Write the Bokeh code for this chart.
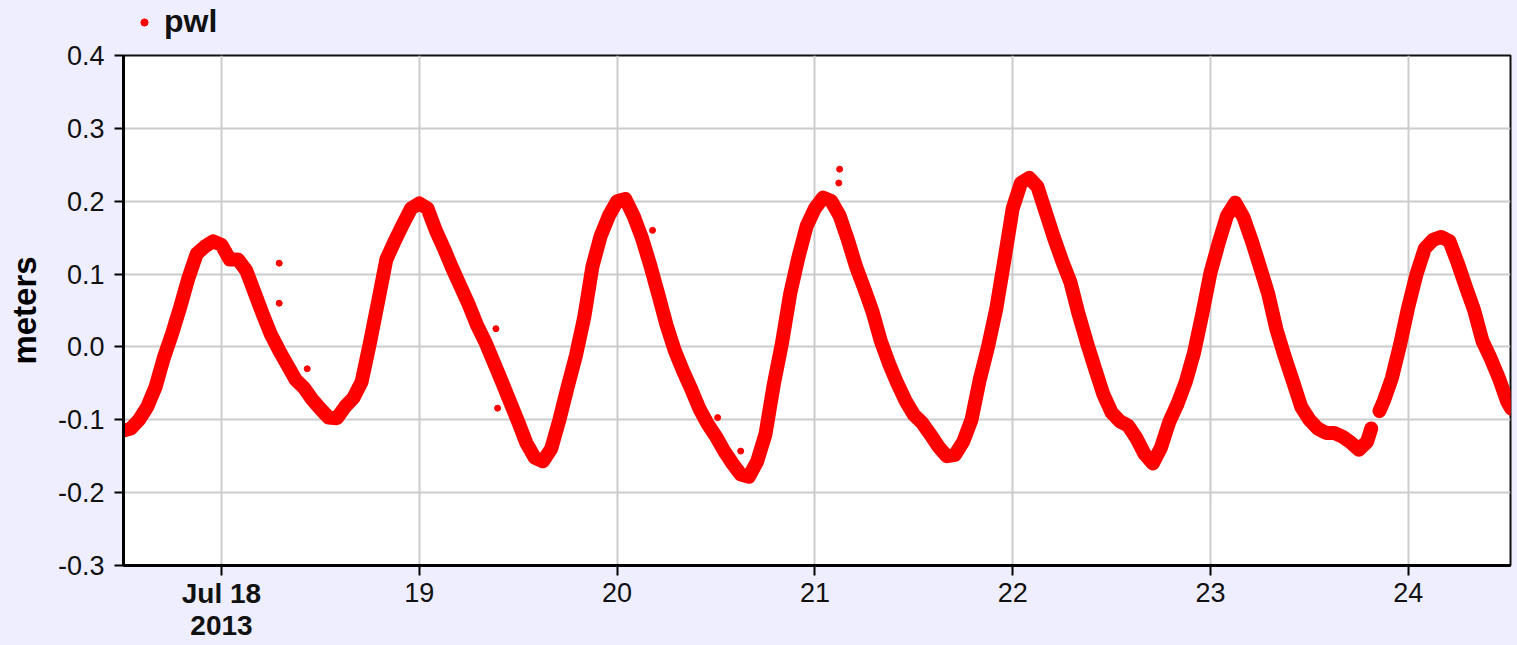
import pandas as pd
from bokeh.plotting import figure
from bokeh.layouts import column
from bokeh.models import (Range1d, FixedTicker, PrintfTickFormatter, CustomJSTickFormatter,
                          DatetimeAxis, Legend, LegendItem, GlobalInlineStyleSheet)
from bokeh.embed import file_html
from bokeh.resources import INLINE

# ---------------- data ----------------
start_day = "2013-07-18 00:00"
# sample times, hours after Jul 18 00:00
hours = list(range(-12, 140)) + [139.5, 140, 140.5] + list(range(141, 157)) + [156.5]
NaN = float("nan")
pwl = (
    # Jul 17 12:00 .. 23:00
    [-0.115, -0.112, -0.100, -0.082, -0.055, -0.015, 0.018, 0.055, 0.095, 0.128, 0.138, 0.145]
    # Jul 18
    + [0.140, 0.120, 0.120, 0.105, 0.075, 0.045, 0.017, -0.005, -0.025, -0.045, -0.056, -0.072,
       -0.085, -0.097, -0.098, -0.082, -0.070, -0.048, 0.005, 0.062, 0.120, 0.145, 0.168, 0.190]
    # Jul 19
    + [0.197, 0.190, 0.160, 0.135, 0.108, 0.083, 0.058, 0.030, 0.007, -0.020, -0.047, -0.075,
       -0.103, -0.132, -0.152, -0.157, -0.140, -0.100, -0.055, -0.012, 0.040, 0.110, 0.152, 0.180]
    # Jul 20
    + [0.200, 0.203, 0.180, 0.150, 0.113, 0.072, 0.030, -0.005, -0.033, -0.058, -0.085, -0.106,
       -0.123, -0.143, -0.160, -0.175, -0.178, -0.157, -0.120, -0.052, 0.005, 0.073, 0.123, 0.166]
    # Jul 21
    + [0.190, 0.205, 0.200, 0.180, 0.147, 0.110, 0.080, 0.048, 0.008, -0.023, -0.050, -0.074,
       -0.093, -0.104, -0.120, -0.137, -0.150, -0.148, -0.130, -0.100, -0.045, 0.000, 0.052, 0.120]
    # Jul 22
    + [0.190, 0.225, 0.232, 0.220, 0.185, 0.150, 0.118, 0.089, 0.045, 0.006, -0.030, -0.065,
       -0.090, -0.102, -0.108, -0.125, -0.147, -0.160, -0.138, -0.103, -0.078, -0.048, -0.008, 0.045]
    # Jul 23 00:00 .. 19:00
    + [0.102, 0.143, 0.180, 0.198, 0.178, 0.146, 0.110, 0.073, 0.024, -0.013, -0.047, -0.082,
       -0.100, -0.112, -0.118, -0.118, -0.123, -0.131, -0.141, -0.130]
    # 19:30, 20:00 (missing), 20:30
    + [-0.112, NaN, -0.088]
    # Jul 23 21:00 .. Jul 24 12:00
    + [-0.075, -0.043, 0.003, 0.055, 0.100, 0.135, 0.147, 0.151, 0.145, 0.115, 0.082, 0.050,
       0.008, -0.016, -0.043, -0.075]
    + [-0.085]
)
assert len(hours) == len(pwl), (len(hours), len(pwl))

# isolated outlying samples
out_hours = [7.0, 7.0, 10.4, 33.3, 33.5, 52.3, 60.2, 63.0, 74.9, 75.0]
out_pwl = [0.115, 0.060, -0.030, 0.025, -0.084, 0.160, -0.097, -0.143, 0.225, 0.244]

day_labels = ["Jul 18", "19", "20", "21", "22", "23", "24"]
year_label = "2013"
y_ticks = [-0.3, -0.2, -0.1, 0.0, 0.1, 0.2, 0.3, 0.4]
series_name = "pwl"
y_title = "meters"

# ---------------- build ----------------
base = pd.Timestamp(start_day)
x = base + pd.to_timedelta(hours, unit="h")
xo = base + pd.to_timedelta(out_hours, unit="h")
tick_ms = [float((base + pd.Timedelta(days=i)).value // 10**6) for i in range(len(day_labels))]
tick_text = [""] + day_labels[1:]
first_text = day_labels[0] + "\n" + year_label

x_start = base + pd.Timedelta(hours=-11.89)
x_end = base + pd.Timedelta(hours=156.40)
xr = Range1d(x_start, x_end)

BG = "#EEEEFF"
RED = "#FF0000"
FONT = "Liberation Sans"

p = figure(width=1517, height=605, x_axis_type="datetime",
           x_range=xr, y_range=Range1d(-0.3, 0.4),
           output_backend="svg", toolbar_location=None,
           min_border_left=123, min_border_right=7, min_border_top=15, min_border_bottom=80)

p.stylesheets = [GlobalInlineStyleSheet(css="body { background: #EEEEFF; }")]
p.background_fill_color = "white"
p.border_fill_color = BG
p.outline_line_color = "#111111"
p.outline_line_width = 2

p.line(x, pwl, line_width=14, line_color=RED, line_join="round", line_cap="round")
p.scatter(x, pwl, size=8, marker="circle", fill_color=RED, line_color=RED)
p.scatter(xo, out_pwl, size=6, marker="circle", fill_color=RED, line_color=RED)

# axes
p.xaxis.ticker = FixedTicker(ticks=tick_ms)
p.xaxis.formatter = CustomJSTickFormatter(args=dict(tv=tick_ms, tl=tick_text), code="""
    const i = tv.indexOf(tick);
    return i >= 0 ? tl[i] : '';
""")
p.yaxis.ticker = FixedTicker(ticks=y_ticks)
p.yaxis.formatter = PrintfTickFormatter(format="%.1f")

for ax in (p.xaxis[0], p.yaxis[0]):
    ax.axis_line_color = "black"
    ax.axis_line_width = 3
    ax.major_tick_in = 0
    ax.major_tick_line_color = "black"
    ax.major_tick_line_width = 2
    ax.minor_tick_line_color = None
    ax.major_label_text_font = FONT
    ax.major_label_text_font_size = "27px"
    ax.major_label_text_color = "#111111"

p.xaxis.major_tick_out = 10
p.xaxis.major_label_standoff = 7
p.yaxis.major_tick_out = 9
p.yaxis.major_label_standoff = 10

p.yaxis.axis_label = y_title
p.yaxis.axis_label_text_font = FONT
p.yaxis.axis_label_text_font_style = "bold"
p.yaxis.axis_label_text_font_size = "33px"
p.yaxis.axis_label_text_color = "black"
p.yaxis.axis_label_standoff = 12

for g in (p.xgrid[0], p.ygrid[0]):
    g.grid_line_color = "#CCCCCC"
    g.grid_line_width = 2

# bold first date label: a second, line-less axis whose labels sit in the first axis' row
axB = DatetimeAxis(ticker=FixedTicker(ticks=[tick_ms[0]]),
                   formatter=CustomJSTickFormatter(args=dict(t=first_text), code="return t;"),
                   axis_line_color=None, major_tick_line_color=None, minor_tick_line_color=None,
                   major_tick_in=0, major_tick_out=0, major_label_standoff=-27,
                   major_label_text_font=FONT, major_label_text_font_style="bold",
                   major_label_text_font_size="28px", major_label_text_color="#111111",
                   major_label_text_line_height=1.05)
p.add_layout(axB, "below")

# ---- legend strip above the chart ----
lg = figure(width=1517, height=40, x_range=xr, y_range=Range1d(10, 11),
            x_axis_location=None, y_axis_location=None,
            output_backend="svg", toolbar_location=None,
            min_border_left=0, min_border_right=0, min_border_top=0, min_border_bottom=0)
lg.grid.visible = False
lg.outline_line_color = None
lg.background_fill_color = BG
lg.border_fill_color = BG
lr = lg.scatter(x, pwl, size=8, marker="circle", fill_color=RED, line_color=RED)

legend = Legend(items=[LegendItem(label=series_name, renderers=[lr])], location=(12, 0))
legend.border_line_color = None
legend.background_fill_alpha = 0
legend.padding = 0
legend.margin = 0
legend.spacing = 0
legend.glyph_width = 18
legend.glyph_height = 18
legend.label_standoff = 11
legend.label_text_font = FONT
legend.label_text_font_style = "bold"
legend.label_text_font_size = "32px"
legend.label_text_color = "#111111"
lg.add_layout(legend)

page = column(lg, p, spacing=0)
open("out.html", "w").write(file_html(page, INLINE))
